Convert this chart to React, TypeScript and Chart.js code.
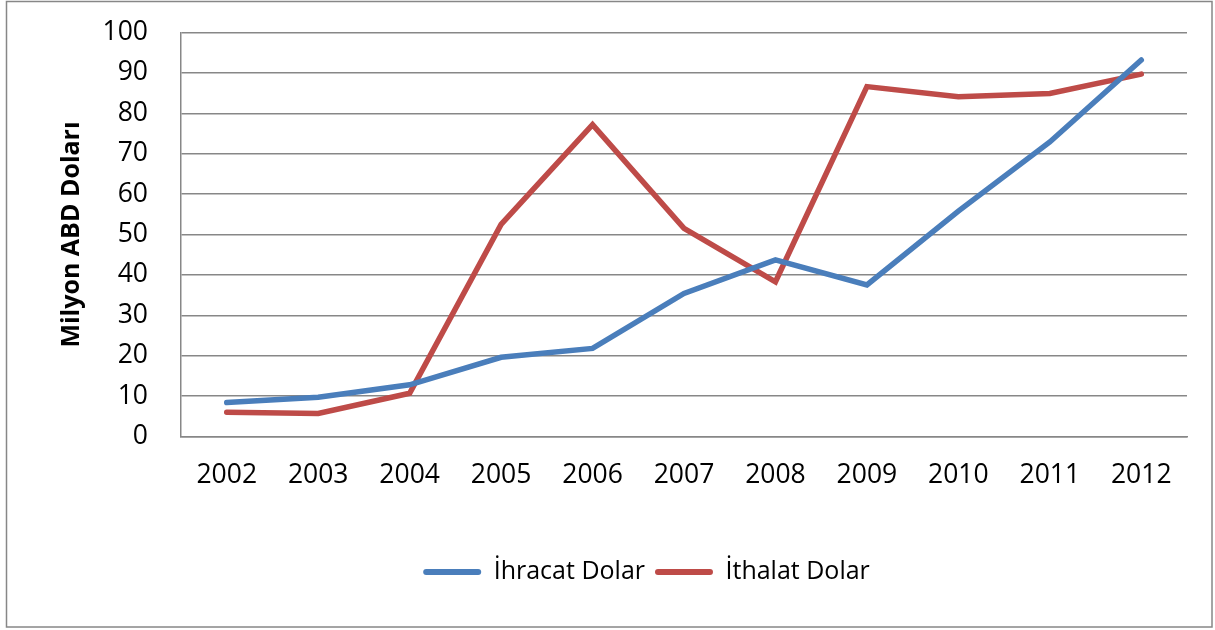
import React, { useEffect, useRef } from "react";
import { Chart, registerables } from "chart.js";

Chart.register(...registerables);

const categories = ["2002", "2003", "2004", "2005", "2006", "2007", "2008", "2009", "2010", "2011", "2012"];
const ihracat = [8.4, 9.7, 12.8, 19.6, 21.8, 35.4, 43.7, 37.5, 55.8, 72.9, 93.2];
const ithalat = [6.0, 5.7, 10.7, 52.5, 77.2, 51.5, 38.3, 86.6, 84.1, 84.9, 89.7];
const seriesNames = ["İhracat Dolar", "İthalat Dolar"];
const yTitle = "Milyon ABD Doları";

const BLUE = "#4A7EBB";
const RED = "#BE4B48";
const GRID = "#878787";
const FONT = "'Open Sans', sans-serif";

const framePlugin = {
  id: "frame",
  beforeDraw(chart: any) {
    const ctx = chart.ctx;
    ctx.save();
    ctx.fillStyle = "#ffffff";
    ctx.fillRect(0, 0, chart.width, chart.height);
    ctx.strokeStyle = GRID;
    ctx.lineWidth = 1.5;
    ctx.strokeRect(6.5, 1.5, 1205.5, 625.5);
    ctx.restore();
  },
};

const legendShift = {
  id: "legendShift",
  afterLayout(chart: any) {
    const lg = chart.legend;
    if (lg) {
      lg.left += 53;
      lg.right += 53;
    }
  },
};

export default function App() {
  const ref = useRef<HTMLCanvasElement | null>(null);
  useEffect(() => {
    document.body.style.margin = "0";
    const canvas = ref.current!;
    const chart = new Chart(canvas, {
      type: "line",
      data: {
        labels: categories,
        datasets: [
          {
            label: seriesNames[0],
            data: ihracat,
            borderColor: BLUE,
            backgroundColor: BLUE,
            borderWidth: 5.5,
            pointRadius: 0,
            tension: 0,
            borderCapStyle: "round",
          },
          {
            label: seriesNames[1],
            data: ithalat,
            borderColor: RED,
            backgroundColor: RED,
            borderWidth: 5.5,
            pointRadius: 0,
            tension: 0,
            borderCapStyle: "round",
          },
        ],
      },
      plugins: [framePlugin, legendShift],
      options: {
        animation: false,
        responsive: false,
        maintainAspectRatio: false,
        devicePixelRatio: 1,
        layout: { padding: { left: 0, right: 28, top: 32.5, bottom: 35.5 } },
        plugins: {
          tooltip: { enabled: false },
          legend: {
            position: "bottom",
            labels: {
              font: { family: FONT, size: 25 },
              color: "#000",
              boxWidth: 58,
              boxHeight: 6,
              padding: 10,
              useBorderRadius: true,
              borderRadius: 3,
              generateLabels: (c: any) =>
                c.data.datasets.map((d: any, i: number) => ({
                  text: d.label,
                  fillStyle: d.borderColor,
                  strokeStyle: d.borderColor,
                  lineWidth: 0,
                  hidden: false,
                  datasetIndex: i,
                  borderRadius: 3,
                  fontColor: "#000",
                })),
            },
          },
        },
        scales: {
          x: {
            type: "category",
            offset: true,
            grid: { display: false, drawTicks: false },
            border: { display: true, color: GRID, width: 1.5 },
            ticks: { font: { family: FONT, size: 26.5 }, color: "#000", padding: 23, maxRotation: 0, autoSkip: false },
            afterFit: (s: any) => {
              s.height = 113;
            },
          },
          y: {
            min: 0,
            max: 100,
            ticks: { stepSize: 10, font: { family: FONT, size: 26.5 }, color: "#000", padding: 0 },
            grid: { color: GRID, lineWidth: 1.5, drawTicks: true, tickLength: 33, tickColor: "rgba(0,0,0,0)" },
            border: { display: true, color: GRID, width: 1.5 },
            title: {
              display: true,
              text: yTitle,
              font: { family: FONT, size: 25, weight: "bold" },
              color: "#000",
              padding: { top: 57, bottom: 0 },
            },
            afterFit: (s: any) => {
              s.width = 181;
            },
          },
        },
      },
    });
    return () => chart.destroy();
  }, []);
  return (
    <div style={{ width: 1215, height: 630, position: "relative" }}>
      <canvas ref={ref} width={1215} height={630} style={{ display: "block", width: 1215, height: 630 }} />
    </div>
  );
}
